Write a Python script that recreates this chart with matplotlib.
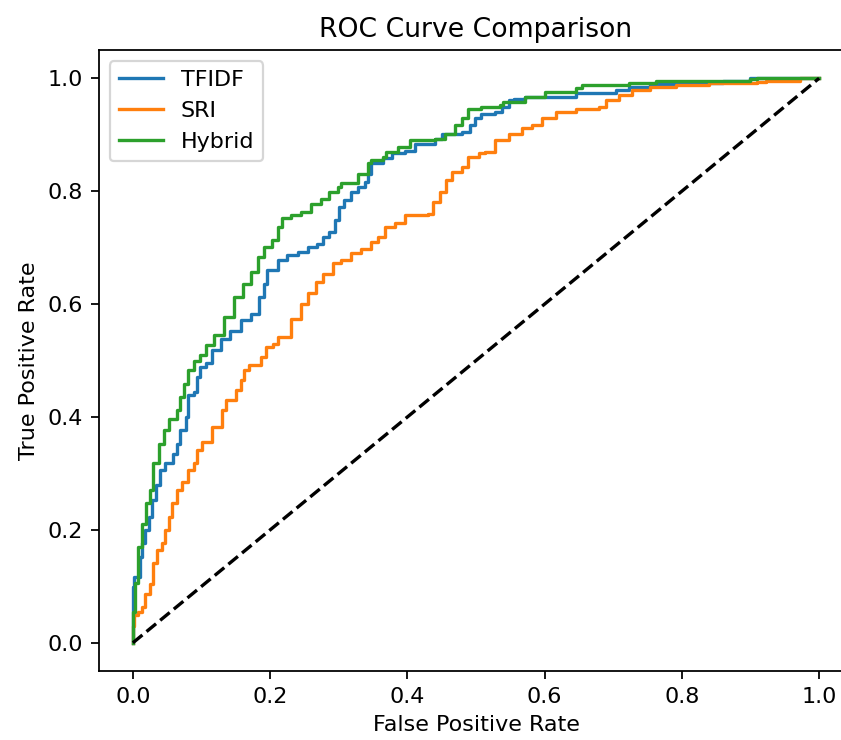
import matplotlib
matplotlib.use("Agg")
import matplotlib.pyplot as plt

# ROC points (fpr, tpr)
tfidf_fpr = [0.0, 0.0, 0.002, 0.011, 0.013, 0.018, 0.023, 0.028, 0.033, 0.040, 0.047,
             0.059, 0.064, 0.069, 0.077, 0.081, 0.089, 0.094, 0.0985, 0.106, 0.116,
             0.128, 0.142, 0.157, 0.172, 0.184, 0.191, 0.196, 0.211, 0.225, 0.240,
             0.255, 0.269, 0.277, 0.286, 0.294, 0.301, 0.308, 0.318, 0.328, 0.338,
             0.343, 0.347, 0.365, 0.377, 0.396, 0.411, 0.440, 0.450, 0.479, 0.491,
             0.499, 0.508, 0.528, 0.538, 0.548, 0.555, 0.572, 0.606, 0.645, 0.704,
             0.723, 0.753, 0.791, 0.860, 0.899, 1.0]
tfidf_tpr = [0.0, 0.099, 0.117, 0.152, 0.176, 0.200, 0.223, 0.253, 0.279, 0.306, 0.318,
             0.335, 0.353, 0.377, 0.400, 0.439, 0.444, 0.471, 0.489, 0.495, 0.518,
             0.539, 0.552, 0.571, 0.583, 0.613, 0.636, 0.660, 0.678, 0.687, 0.692,
             0.701, 0.707, 0.719, 0.728, 0.749, 0.772, 0.784, 0.799, 0.808, 0.816,
             0.831, 0.849, 0.858, 0.867, 0.872, 0.884, 0.893, 0.902, 0.905, 0.917,
             0.929, 0.937, 0.940, 0.949, 0.961, 0.964, 0.967, 0.967, 0.973, 0.979,
             0.985, 0.989, 0.991, 0.996, 1.0, 1.0]

sri_fpr = [0.0, 0.0, 0.002, 0.008, 0.013, 0.018, 0.025, 0.030, 0.035, 0.042, 0.047,
           0.052, 0.057, 0.064, 0.072, 0.081, 0.089, 0.094, 0.101, 0.116, 0.130,
           0.135, 0.150, 0.157, 0.162, 0.169, 0.186, 0.194, 0.204, 0.211, 0.230,
           0.245, 0.255, 0.267, 0.277, 0.291, 0.304, 0.318, 0.333, 0.347, 0.357,
           0.367, 0.382, 0.396, 0.430, 0.438, 0.447, 0.457, 0.465, 0.479, 0.489,
           0.504, 0.513, 0.528, 0.548, 0.567, 0.582, 0.596, 0.616, 0.645, 0.679,
           0.689, 0.709, 0.728, 0.753, 0.791, 0.840, 0.909, 0.923, 0.972, 0.972, 1.0]
sri_tpr = [0.0, 0.030, 0.049, 0.055, 0.064, 0.087, 0.105, 0.141, 0.164, 0.176, 0.200,
           0.223, 0.247, 0.270, 0.285, 0.306, 0.318, 0.341, 0.356, 0.383, 0.412,
           0.430, 0.447, 0.465, 0.483, 0.492, 0.506, 0.524, 0.530, 0.542, 0.574,
           0.601, 0.619, 0.639, 0.654, 0.672, 0.678, 0.690, 0.698, 0.710, 0.719,
           0.737, 0.743, 0.757, 0.760, 0.781, 0.799, 0.819, 0.834, 0.843, 0.861,
           0.867, 0.870, 0.890, 0.902, 0.911, 0.917, 0.929, 0.940, 0.946, 0.949,
           0.961, 0.970, 0.979, 0.985, 0.988, 0.991, 0.993, 0.996, 0.996, 1.0, 1.0]

hybrid_fpr = [0.0, 0.0, 0.003, 0.008, 0.013, 0.019, 0.025, 0.030, 0.0375, 0.045, 0.052,
              0.064, 0.069, 0.074, 0.081, 0.089, 0.0985, 0.106, 0.118, 0.133, 0.147,
              0.160, 0.172, 0.182, 0.191, 0.203, 0.211, 0.218, 0.230, 0.245, 0.260,
              0.274, 0.286, 0.299, 0.3035, 0.318, 0.328, 0.343, 0.347, 0.365, 0.369,
              0.387, 0.404, 0.440, 0.455, 0.469, 0.479, 0.489, 0.508, 0.535, 0.540,
              0.572, 0.601, 0.645, 0.655, 0.723, 0.762, 0.899, 0.909, 1.0]
hybrid_tpr = [0.0, 0.055, 0.106, 0.170, 0.211, 0.247, 0.270, 0.318, 0.353, 0.377, 0.397,
              0.412, 0.436, 0.459, 0.483, 0.500, 0.510, 0.527, 0.546, 0.577, 0.613,
              0.636, 0.657, 0.684, 0.701, 0.713, 0.737, 0.752, 0.757, 0.763, 0.778,
              0.787, 0.799, 0.808, 0.814, 0.814, 0.831, 0.849, 0.855, 0.861, 0.870,
              0.878, 0.890, 0.893, 0.902, 0.917, 0.929, 0.946, 0.949, 0.952, 0.958,
              0.967, 0.976, 0.982, 0.988, 0.992, 0.995, 0.9995, 1.0, 1.0]

curves = [("TFIDF", tfidf_fpr, tfidf_tpr),
          ("SRI", sri_fpr, sri_tpr),
          ("Hybrid", hybrid_fpr, hybrid_tpr)]

DPI = 160
fig = plt.figure(figsize=(841 / DPI, 740 / DPI), dpi=DPI)
# axes run past the right edge, as in the cropped original
ax = fig.add_axes([0.1172, 0.0932, 0.8976, 0.8392])

for name, fpr, tpr in curves:
    ax.plot(fpr, tpr, label=name, drawstyle="steps-post")
ax.plot([0, 1], [0, 1], "k--")

ax.set_xlim(-0.05, 1.05)
ax.set_ylim(-0.05, 1.05)
ax.set_xlabel("False Positive Rate")
ax.set_ylabel("True Positive Rate")
ax.set_title("ROC Curve Comparison")
ax.legend(loc="upper left")

fig.savefig("out.png", dpi=DPI)
